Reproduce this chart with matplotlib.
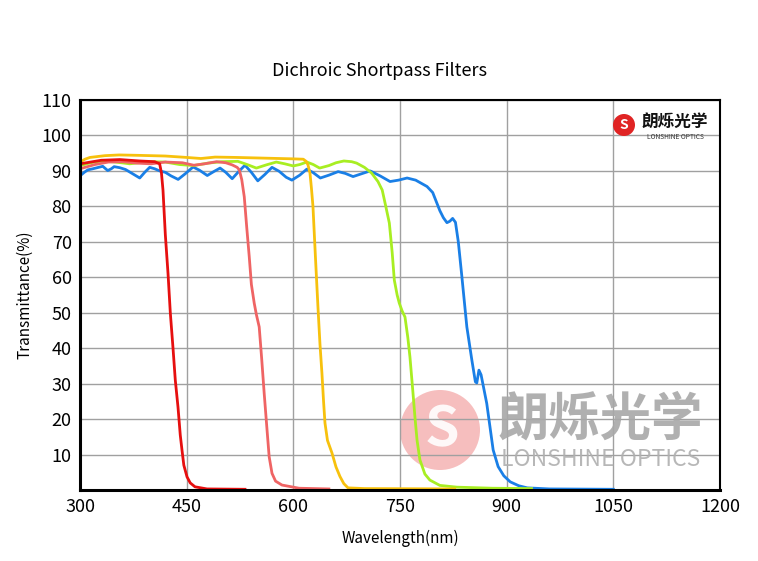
import matplotlib
matplotlib.use('Agg')
import matplotlib.pyplot as plt
from matplotlib.patches import Circle

plt.rcParams['font.family'] = ['Noto Sans CJK SC', 'DejaVu Sans']

# ---- data ----
blue_nm = [300, 306, 311, 318, 324, 332, 339, 344, 348, 356, 364, 374, 384, 391, 398,
           405, 412, 420, 428, 438, 448, 459, 468, 479, 488, 497, 505, 514, 523, 532,
           541, 550, 560, 570, 580, 590, 598, 609, 619, 628, 638, 650, 663, 673, 684,
           696, 708, 722, 736, 748, 760, 772, 788, 796, 806, 811, 816, 820, 824, 828,
           832, 837, 844, 851, 856, 858, 861, 864, 872, 881, 888, 896, 905, 917, 929,
           960, 1050]
blue_t = [88.6, 89.6, 90.3, 90.6, 90.9, 91.3, 90.1, 90.6, 91.2, 90.9, 90.4, 89.2, 88.0, 89.6, 91.0,
          90.6, 90.0, 89.6, 88.6, 87.6, 89.2, 91.1, 90.2, 88.7, 89.8, 90.8, 89.6, 87.8, 89.8, 91.6,
          89.6, 87.2, 89.0, 91.0, 89.9, 88.2, 87.4, 88.8, 90.5, 89.5, 88.0, 88.8, 89.8, 89.3, 88.4,
          89.2, 90.0, 88.6, 87.0, 87.4, 88.0, 87.4, 85.6, 83.9, 78.8, 76.8, 75.4, 75.8, 76.6, 75.5,
          70.0, 60.2, 46.0, 36.7, 30.5, 30.2, 33.8, 32.5, 24.4, 11.3, 6.6, 4.0, 2.3, 1.2, 0.6,
          0.3, 0.2]

green_nm = [300, 315, 330, 350, 370, 395, 420, 440, 460, 480, 500, 522, 535, 548, 562,
            576, 588, 600, 609, 619, 628, 637, 650, 660, 671, 682, 689, 700, 710, 719,
            725, 730, 735, 739, 742, 746, 749, 753, 757, 761, 764, 768, 771, 774, 778,
            785, 792, 806, 830, 880, 935]
green_t = [91.5, 92.3, 92.8, 92.5, 92.0, 92.6, 92.5, 91.8, 91.5, 92.2, 92.6, 92.7, 91.8, 90.8, 91.7,
           92.5, 92.0, 91.4, 91.8, 92.5, 91.8, 90.8, 91.5, 92.3, 92.8, 92.6, 92.2, 91.0, 89.4, 87.0,
           84.6, 80.0, 75.3, 67.0, 59.2, 55.0, 52.7, 50.5, 48.8, 43.0, 37.5, 28.0, 20.6, 14.0, 8.5,
           4.5, 2.8, 1.3, 0.8, 0.5, 0.4]

yellow_nm = [300, 307, 314, 335, 355, 380, 420, 450, 470, 490, 520, 560, 600, 614, 618,
             620.6, 623.4, 625.5, 627.6, 631, 634.6, 637.5, 640.2, 642.5, 644.5, 648, 654.4,
             660, 665.6, 671, 676.9, 700, 827]
yellow_t = [92.5, 93.3, 93.8, 94.3, 94.5, 94.4, 94.2, 93.8, 93.5, 93.9, 93.8, 93.6, 93.4, 93.3, 92.7,
            91.7, 89.4, 85.0, 80.0, 66.0, 51.7, 41.0, 33.0, 25.0, 18.9, 14.0, 10.4,
            6.5, 3.8, 1.8, 0.6, 0.4, 0.3]

pink_nm = [300, 321, 340, 360, 380, 400, 420, 444, 460, 475, 492, 505, 514, 521, 524,
           527.5, 531, 534.5, 538, 541, 545, 548, 552, 555.5, 559, 563, 566, 570, 575,
           584, 608, 650]
pink_t = [90.6, 91.8, 92.5, 92.6, 92.2, 92.0, 92.5, 92.3, 91.6, 92.0, 92.6, 92.3, 91.7, 91.0, 90.3,
          87.5, 82.7, 74.0, 65.8, 58.0, 52.7, 49.5, 46.0, 37.0, 27.3, 17.0, 9.4, 4.7, 2.5,
          1.4, 0.5, 0.3]

red_nm = [300, 330, 356, 384, 405, 412, 414.5, 416.7, 420, 423.8, 427, 430.8, 434, 437.8,
          441, 443.4, 446, 450.5, 455, 461.7, 478.6, 532]
red_t = [92.0, 93.0, 93.2, 92.8, 92.6, 92.0, 89.5, 84.6, 72.0, 61.0, 50.0, 40.0, 31.0, 23.4,
         15.5, 11.3, 7.0, 3.7, 2.0, 0.9, 0.3, 0.2]

x_ticks = [300, 450, 600, 750, 900, 1050, 1200]
y_ticks = [10, 20, 30, 40, 50, 60, 70, 80, 90, 100, 110]

fig = plt.figure(figsize=(7.58, 5.61), dpi=100)
ax = fig.add_axes([80 / 758, 1 - 490 / 561, 640 / 758, 390 / 561])

ax.set_xlim(300, 1200)
ax.set_ylim(0, 110)
ax.set_xticks(x_ticks)
ax.set_yticks(y_ticks)
ax.tick_params(length=0, labelsize=13, pad=6)
ax.grid(True, color='#a0a0a0', linewidth=1.0)
ax.set_axisbelow(True)
for side in ['top', 'right']:
    ax.spines[side].set_linewidth(1.5)
for side in ['left', 'bottom']:
    ax.spines[side].set_linewidth(2.2)

# watermark (behind the curves)
dpi_tr = fig.dpi_scale_trans
fig.patches.append(Circle((4.40, 5.61 - 4.30), 0.40, transform=dpi_tr,
                          facecolor='#f4a8a8', alpha=0.75, edgecolor='none', zorder=1))
fig.text(4.42 / 7.58, 1 - 4.30 / 5.61, 'S', color='white', fontsize=40, fontweight='bold',
         ha='center', va='center', alpha=0.9, zorder=1.1)
fig.text(600 / 758, 1 - 419 / 561, '朗烁光学', color='#a8a8a8', fontsize=37,
         fontweight='bold', ha='center', va='center', alpha=0.9)
fig.text(601 / 758, 1 - 459 / 561, 'LONSHINE OPTICS', color='#b0b0b0', fontsize=16.5,
         ha='center', va='center', alpha=0.9)

ax.patch.set_alpha(0)
ax.set_zorder(2)

lw = 2.0
ax.plot(blue_nm, blue_t, color='#1a7fe6', linewidth=lw, solid_joinstyle='round')
ax.plot(green_nm, green_t, color='#a8ee22', linewidth=lw, solid_joinstyle='round')
ax.plot(yellow_nm, yellow_t, color='#f7c10d', linewidth=lw, solid_joinstyle='round')
ax.plot(pink_nm, pink_t, color='#ef6464', linewidth=lw, solid_joinstyle='round')
ax.plot(red_nm, red_t, color='#e60f0f', linewidth=lw, solid_joinstyle='round')

ax.set_xlabel('Wavelength(nm)', fontsize=11, labelpad=10)
ax.set_ylabel('Transmittance(%)', fontsize=11, labelpad=6)
fig.text(0.5, 1 - 71 / 561, 'Dichroic Shortpass Filters', fontsize=13,
         ha='center', va='center')

# small logo top right
fig.patches.append(Circle((6.24, 5.61 - 1.25), 0.11, transform=dpi_tr,
                          facecolor='#e02424', edgecolor='none', zorder=5))
fig.text(6.24 / 7.58, 1 - 1.25 / 5.61, 'S', color='white', fontsize=10, fontweight='bold',
         ha='center', va='center', zorder=6)
fig.text(675 / 758, 1 - 122 / 561, '朗烁光学', color='#111111', fontsize=12,
         fontweight='bold', ha='center', va='center', zorder=6)
fig.text(675 / 758, 1 - 137 / 561, 'LONSHINE OPTICS', color='#333333', fontsize=4.8,
         ha='center', va='center', zorder=6)

fig.savefig('out.png', dpi=100)
